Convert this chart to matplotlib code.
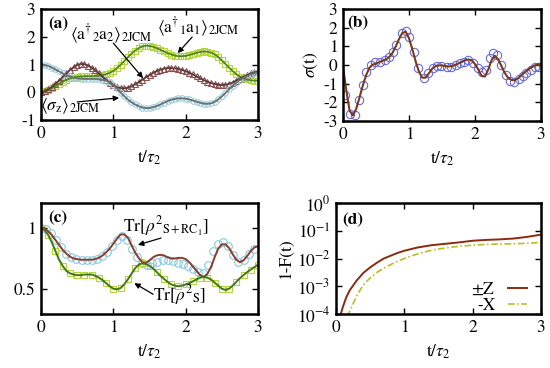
import numpy as np
import matplotlib
matplotlib.use('Agg')
import matplotlib.pyplot as plt
from matplotlib.ticker import FormatStrFormatter, LogLocator, NullLocator

plt.rcParams['font.family'] = ['STIXGeneral', 'DejaVu Sans']
plt.rcParams['mathtext.fontset'] = 'stix'
plt.rcParams['axes.unicode_minus'] = False

# MARK: data

# (a) photon numbers and sigma_z, sampled every 0.05 tau_2
t_a = np.linspace(0, 3, 61)
n1_a = [0.0, 0.03, 0.08, 0.15, 0.22, 0.3, 0.38, 0.44, 0.5, 0.53, 0.56, 0.57, 0.58, 0.58, 0.58, 0.59,
        0.6, 0.62, 0.65, 0.7, 0.77, 0.87, 0.99, 1.12, 1.26, 1.39, 1.5, 1.59, 1.65, 1.68, 1.67, 1.64,
        1.59, 1.53, 1.47, 1.41, 1.36, 1.32, 1.3, 1.3, 1.31, 1.34, 1.38, 1.42, 1.45, 1.47, 1.46, 1.43,
        1.37, 1.27, 1.15, 1.02, 0.89, 0.76, 0.65, 0.56, 0.5, 0.46, 0.43, 0.42, 0.42]
n2_a = [0.0, 0.04, 0.1, 0.19, 0.3, 0.42, 0.55, 0.68, 0.8, 0.9, 0.98, 1.02, 1.01, 0.96, 0.88, 0.79,
        0.68, 0.56, 0.45, 0.34, 0.25, 0.18, 0.15, 0.14, 0.16, 0.21, 0.28, 0.36, 0.45, 0.54, 0.62, 0.7,
        0.76, 0.81, 0.85, 0.87, 0.87, 0.86, 0.84, 0.8, 0.76, 0.7, 0.64, 0.57, 0.5, 0.44, 0.38, 0.33,
        0.3, 0.27, 0.26, 0.27, 0.3, 0.35, 0.42, 0.49, 0.56, 0.62, 0.68, 0.72, 0.75]
sz_a = [1.0, 0.98, 0.95, 0.89, 0.82, 0.75, 0.68, 0.62, 0.57, 0.53, 0.5, 0.49, 0.48, 0.48, 0.48, 0.48,
        0.47, 0.45, 0.42, 0.36, 0.27, 0.14, -0.01, -0.14, -0.26, -0.36, -0.44, -0.5, -0.55, -0.57,
        -0.57, -0.54, -0.5, -0.44, -0.38, -0.32, -0.27, -0.24, -0.22, -0.22, -0.23, -0.26, -0.3,
        -0.34, -0.38, -0.41, -0.42, -0.4, -0.35, -0.26, -0.15, -0.03, 0.1, 0.23, 0.35, 0.45, 0.52,
        0.59, 0.65, 0.69, 0.72]

# (b) sigma(t): line every 0.05, circles at their own times
t_b = np.linspace(0, 3, 61)
sig_b = [-0.1, -1.35, -2.45, -2.7, -2.35, -1.75, -1.1, -0.55, -0.15, 0.02, 0.08, 0.15, 0.22, 0.3,
         0.42, 0.65, 1.0, 1.4, 1.72, 1.78, 1.43, 0.85, 0.2, -0.35, -0.68, -0.68, -0.45, -0.2, -0.07,
         -0.02, -0.02, -0.06, -0.08, -0.06, 0.0, 0.08, 0.16, 0.25, 0.3, 0.25, 0.05, -0.25, -0.58,
         -0.62, -0.25, 0.25, 0.5, 0.3, -0.05, -0.42, -0.68, -0.8, -0.82, -0.72, -0.56, -0.4, -0.26,
         -0.13, -0.03, 0.03, 0.04]
t_b_pts = [0.03, 0.1, 0.18, 0.24, 0.31, 0.35, 0.42, 0.48, 0.56, 0.63, 0.7, 0.76, 0.81, 0.89, 0.95,
           1.0, 1.07, 1.14, 1.22, 1.29, 1.36, 1.43, 1.49, 1.57, 1.64, 1.71, 1.77, 1.84, 1.9, 1.97,
           2.04, 2.1, 2.16, 2.22, 2.28, 2.34, 2.4, 2.47, 2.53, 2.59, 2.66, 2.72, 2.78, 2.85, 2.91, 2.97]
sig_b_pts = [-1.6, -2.6, -2.7, -1.9, -1.07, -0.4, 0.0, 0.14, 0.18, 0.27, 0.45, 0.71, 1.07, 1.7, 1.84,
             1.52, 0.68, -0.18, -0.71, -0.45, -0.18, -0.04, -0.05, -0.09, -0.09, 0.0, 0.09, 0.18,
             0.27, 0.09, -0.18, -0.36, -0.27, 0.36, 0.66, 0.54, 0.0, -0.54, -0.84, -0.9, -0.77,
             -0.59, -0.45, -0.27, -0.09, -0.09]

# (c) purities
t_c = np.linspace(0, 3, 61)
pur_src = [1.0, 0.995, 0.97, 0.94, 0.9, 0.86, 0.82, 0.79, 0.765, 0.75, 0.745, 0.74, 0.74, 0.74, 0.74,
           0.745, 0.755, 0.775, 0.8, 0.83, 0.87, 0.91, 0.945, 0.945, 0.92, 0.86, 0.8, 0.755, 0.72,
           0.715, 0.735, 0.76, 0.775, 0.78, 0.775, 0.76, 0.75, 0.75, 0.755, 0.755, 0.745, 0.72, 0.685,
           0.65, 0.615, 0.6, 0.625, 0.68, 0.76, 0.83, 0.865, 0.865, 0.835, 0.785, 0.74, 0.72, 0.735,
           0.77, 0.81, 0.84, 0.85]
pur_s = [1.0, 0.98, 0.94, 0.88, 0.81, 0.74, 0.69, 0.65, 0.63, 0.62, 0.615, 0.615, 0.62, 0.62, 0.62,
         0.61, 0.595, 0.575, 0.55, 0.525, 0.505, 0.5, 0.51, 0.54, 0.58, 0.625, 0.67, 0.7, 0.71, 0.705,
         0.69, 0.67, 0.64, 0.61, 0.585, 0.56, 0.54, 0.53, 0.525, 0.53, 0.54, 0.55, 0.565, 0.58, 0.595,
         0.6, 0.595, 0.58, 0.555, 0.53, 0.505, 0.495, 0.505, 0.53, 0.56, 0.59, 0.615, 0.64, 0.66,
         0.68, 0.7]
t_c_pts = np.arange(0, 2.95, 0.07)
pur_src_pts = [1.0, 0.99, 0.96, 0.9, 0.84, 0.79, 0.76, 0.745, 0.74, 0.74, 0.74, 0.75, 0.77, 0.8, 0.85,
               0.9, 0.93, 0.9, 0.83, 0.76, 0.71, 0.7, 0.71, 0.725, 0.74, 0.74, 0.73, 0.715, 0.705,
               0.69, 0.665, 0.64, 0.63, 0.7, 0.81, 0.87, 0.88, 0.85, 0.78, 0.72, 0.74, 0.79, 0.83]

# (d) infidelity, log10 values
t_z = [0.06, 0.07, 0.1, 0.15, 0.2, 0.3, 0.4, 0.5, 0.6, 0.7, 0.8, 0.9, 1.0, 1.2, 1.4, 1.6, 1.8, 2.0,
       2.2, 2.4, 2.6, 2.8, 3.0]
lg_z = [-4.2, -4.0, -3.75, -3.4, -3.15, -2.8, -2.52, -2.32, -2.15, -2.0, -1.9, -1.8, -1.72, -1.6,
        -1.52, -1.47, -1.42, -1.36, -1.33, -1.31, -1.28, -1.22, -1.14]
t_x = [0.17, 0.18, 0.22, 0.3, 0.4, 0.5, 0.6, 0.7, 0.8, 0.9, 1.0, 1.2, 1.4, 1.6, 1.8, 2.0, 2.2, 2.4,
       2.6, 2.8, 3.0]
lg_x = [-4.1, -4.0, -3.8, -3.35, -2.95, -2.7, -2.5, -2.35, -2.22, -2.1, -2.0, -1.83, -1.7, -1.62,
        -1.56, -1.52, -1.49, -1.48, -1.47, -1.45, -1.42]

# MARK: figure

W, H = 550, 368
fig = plt.figure(figsize=(W / 100, H / 100), dpi=100)
FS = 12.5


def px_axes(l, r, t, b):
    return fig.add_axes([l / W, 1 - b / H, (r - l) / W, (b - t) / H])


def style(ax):
    for sp in ax.spines.values():
        sp.set_linewidth(1.8)
    ax.tick_params(direction='in', top=True, right=True, length=4, width=1,
                   labelsize=FS, pad=4)
    ax.set_xlim(0, 3)
    ax.set_xticks([0, 1, 2, 3])
    ax.set_xlabel(r'$\mathrm{t}/\tau_{2}$', fontsize=FS, labelpad=5)


arrow = dict(arrowstyle='-|>', color='black', lw=0.9, mutation_scale=8, shrinkA=0, shrinkB=0)

# (a)
ax = px_axes(41, 258, 9, 120)
ax.plot(t_a, n1_a, ls='none', marker='s', ms=4, mfc='none', mec='#b8d43c', mew=0.8)
ax.plot(t_a, n2_a, ls='none', marker='^', ms=4.5, mfc='none', mec='#8c5050', mew=0.8)
ax.plot(t_a, sz_a, ls='none', marker='o', ms=4, mfc='none', mec='#9ccfe0', mew=0.8)
ax.plot(t_a, n1_a, color='#4a8a1a', lw=1.3)
ax.plot(t_a, n2_a, color='#5a3c3c', lw=1.3)
ax.plot(t_a, sz_a, color='#6e6e6e', lw=1.3)
ax.set_ylim(-1, 3)
ax.set_yticks([-1, 0, 1, 2, 3])
ax.yaxis.set_major_formatter(FormatStrFormatter('%g'))
style(ax)
ax.text(0.235, 2.46, '(a)', fontsize=FS, fontweight='bold', ha='center', va='center')
ax.text(0.97, 2.08, r'$\langle \mathrm{a}^{\dagger}{}_{2}\mathrm{a}_{2}\rangle_{2\mathrm{JCM}}$',
        fontsize=FS, ha='center', va='center')
ax.annotate('', xy=(1.41, 0.51), xytext=(1.0, 1.77), arrowprops=arrow)
ax.text(2.17, 2.35, r'$\langle \mathrm{a}^{\dagger}{}_{1}\mathrm{a}_{1}\rangle_{2\mathrm{JCM}}$',
        fontsize=FS, ha='center', va='center')
ax.annotate('', xy=(1.89, 1.41), xytext=(2.09, 1.99), arrowprops=arrow)
ax.text(0.4, -0.5, r'$\langle\sigma_{\mathrm{z}}\rangle_{2\mathrm{JCM}}$', fontsize=FS,
        ha='center', va='center')
ax.annotate('', xy=(1.08, -0.2), xytext=(0.5, -0.35), arrowprops=arrow)

# (b)
ax = px_axes(343, 541, 9, 121)
ax.plot(t_b_pts, sig_b_pts, ls='none', marker='o', ms=6, mfc='none', mec='#6a6ad8', mew=0.8)
ax.plot(t_b, sig_b, color='#7a3a1a', lw=1.5)
ax.set_ylim(-3, 3)
ax.set_yticks([-3, -2, -1, 0, 1, 2, 3])
ax.yaxis.set_major_formatter(FormatStrFormatter('%g'))
style(ax)
ax.set_ylabel(r'$\sigma(\mathrm{t})$', fontsize=FS, labelpad=2)
ax.text(0.227, 2.25, '(b)', fontsize=FS, fontweight='bold', ha='center', va='center')

# (c)
ax = px_axes(41, 258, 203, 314)
ax.plot(t_c_pts, pur_src_pts, ls='none', marker='o', ms=5.5, mfc='none', mec='#88c8e0', mew=0.8)
ax.plot(t_c[::2], pur_s[::2], ls='none', marker='s', ms=4.5, mfc='none', mec='#b8d43c', mew=0.8)
ax.plot(t_c, pur_src, color='#8a3d2a', lw=1.4)
ax.plot(t_c, pur_s, color='#3f7a12', lw=1.4)
ax.set_ylim(0.3, 1.2)
ax.set_yticks([0.5, 1])
ax.yaxis.set_major_formatter(FormatStrFormatter('%g'))
style(ax)
ax.text(0.235, 1.08, '(c)', fontsize=FS, fontweight='bold', ha='center', va='center')
ax.text(1.73, 1.005, r'$\mathrm{Tr}[\rho^{2}{}_{\mathrm{S+RC}_{1}}]$', fontsize=FS,
        ha='center', va='center')
ax.annotate('', xy=(1.34, 0.86), xytext=(1.66, 0.916), arrowprops=arrow)
ax.text(1.92, 0.454, r'$\mathrm{Tr}[\rho^{2}{}_{\mathrm{S}}]$', fontsize=FS, ha='center', va='center')
ax.annotate('', xy=(1.29, 0.55), xytext=(1.55, 0.46), arrowprops=arrow)

# (d)
ax = px_axes(336, 541, 203, 314)
ax.set_yscale('log')
ax.plot(t_z, 10.0 ** np.array(lg_z), color='#8b2a10', lw=1.4, label=r'$\pm$Z')
ax.plot(t_x, 10.0 ** np.array(lg_x), color='#b8c020', lw=1.2, ls=(0, (4, 1.5, 1, 1.5)), label='-X')
ax.set_ylim(1e-4, 1)
ax.yaxis.set_major_locator(LogLocator(base=10, numticks=10))
ax.yaxis.set_minor_locator(NullLocator())
style(ax)
ax.set_ylabel('1-F(t)', fontsize=FS, labelpad=2)
ax.text(0.25, 10 ** -0.61, '(d)', fontsize=FS, fontweight='bold', ha='center', va='center')
ax.legend(loc='lower right', bbox_to_anchor=(0.93, 0.0), frameon=False, markerfirst=False,
          fontsize=FS, handlelength=1.1, handletextpad=0.7, labelspacing=0.0,
          borderpad=0, borderaxespad=0)

fig.savefig('out.png', dpi=100)
